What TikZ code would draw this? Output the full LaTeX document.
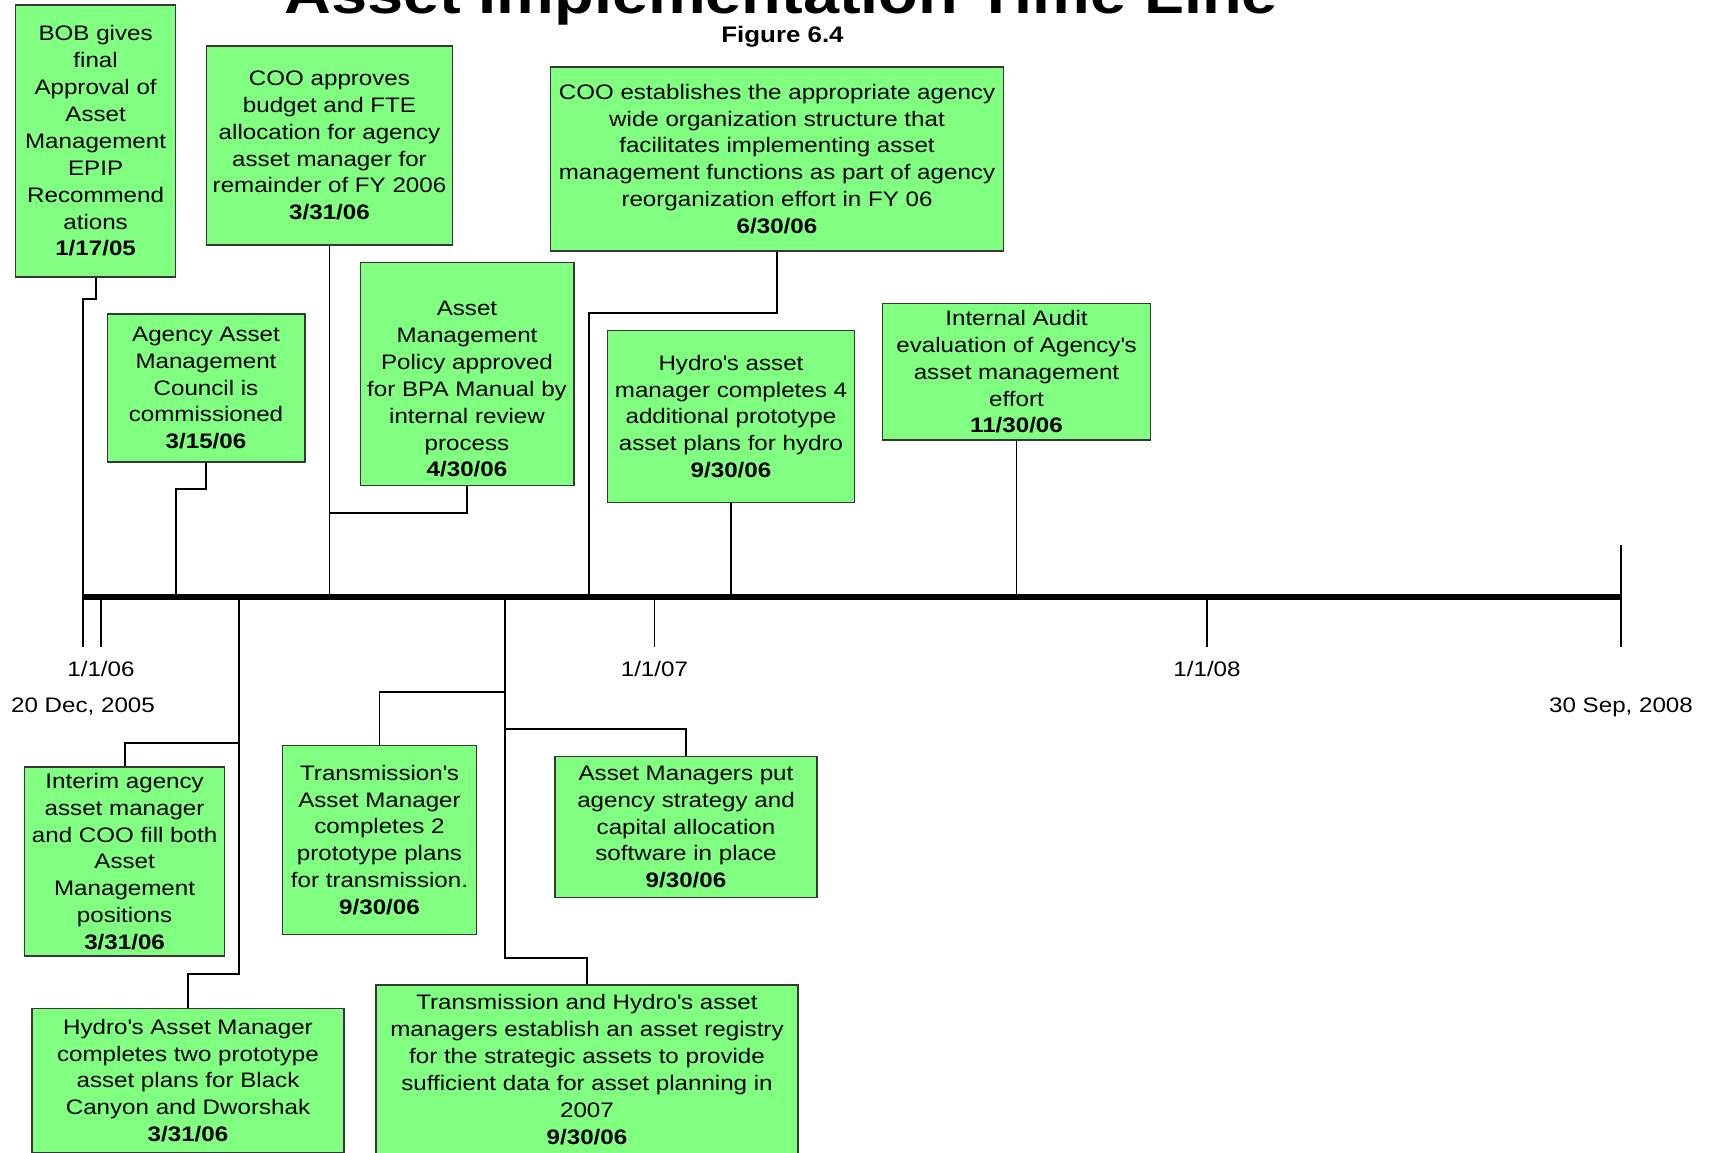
\documentclass[tikz,border=0pt]{standalone}
\usepackage{fontspec}
\setmainfont[FakeStretch=1.15]{Liberation Sans}
\definecolor{G1}{RGB}{128,255,128}
\definecolor{B1}{RGB}{55,55,55}
\newcommand{\evfont}{\fontsize{21}{26.9}\selectfont}
\newcommand{\apo}{\textquotesingle}
\tikzstyle{event}=[draw=B1, fill=G1, line width=1.5pt, align=center, inner sep=2pt, font=\evfont]
\tikzstyle{link}=[line width=1.8pt]
\tikzstyle{datelbl}=[font=\evfont, anchor=base]

\begin{document}
\begin{tikzpicture}[x=1pt,y=-1pt]
  \useasboundingbox (0,0) rectangle (1710,1153);
  % heading
  \node[anchor=base, font=\fontsize{56.4}{60}\selectfont\bfseries] (title) at (781,13.5) {Asset Implementation Time Line};
  \node[anchor=base, font=\fontsize{22.5}{24}\selectfont\bfseries] (fig) at (782.5,42.7) {Figure 6.4};

  % time axis
  \coordinate (t0) at (83,597); \coordinate (t1) at (1622,597);
  \draw[line width=6pt] (t0)--(t1);
  \draw[link] (83,545)--(83,647); \draw[link] (1621,545)--(1621,647);
  \draw[link] (101,597)--(101,647); \draw[link] (654.4,597)--(654.4,647); \draw[link] (1207,597)--(1207,647);
  \node[datelbl] (d06) at (101,676.7) {1/1/06};
  \node[datelbl] (d07) at (654.4,676.7) {1/1/07};
  \node[datelbl] (d08) at (1207,676.7) {1/1/08};
  \node[datelbl] (dstart) at (83,712.7) {20 Dec, 2005};
  \node[datelbl] (dend) at (1621,712.7) {30 Sep, 2008};

  % milestones above the axis
  \node[event, minimum width=160, minimum height=272] (bob) at (95.6,141) {BOB gives\\final\\Approval of\\Asset\\Management\\EPIP\\Recommend\\ations\\\textbf{1/17/05}};
  \node[event, minimum width=246, minimum height=199] (budget) at (329.5,145.5) {COO approves\\budget and FTE\\allocation for agency\\asset manager for\\remainder of FY 2006\\\textbf{3/31/06}};
  \node[event, minimum width=453, minimum height=184] (reorg) at (777,159) {COO establishes the appropriate agency\\wide organization structure that\\facilitates implementing asset\\management functions as part of agency\\reorganization effort in FY 06\\\textbf{6/30/06}};
  \node[event, minimum width=197.5, minimum height=148] (council) at (206,388) {Agency Asset\\Management\\Council is\\commissioned\\\textbf{3/15/06}};
  \node[event, minimum width=213.5, minimum height=223] (policy) at (467,374) {\rule{0pt}{45pt}Asset\\Management\\Policy approved\\for BPA Manual by\\internal review\\process\\\textbf{4/30/06}};
  \node[event, minimum width=247, minimum height=172] (hydro4) at (731,416.5) {Hydro\apo s asset\\manager completes 4\\additional prototype\\asset plans for hydro\\\textbf{9/30/06}};
  \node[event, minimum width=268, minimum height=136.7] (audit) at (1016.5,371.7) {Internal Audit\\evaluation of Agency\apo s\\asset management\\effort\\\textbf{11/30/06}};

  % milestones below the axis
  \node[event, minimum width=200, minimum height=189] (interim) at (124.6,861.5) {Interim agency\\asset manager\\and COO fill both\\Asset\\Management\\positions\\\textbf{3/31/06}};
  \node[event, minimum width=194, minimum height=189.3] (trans2) at (379.5,840) {Transmission\apo s\\Asset Manager\\completes 2\\prototype plans\\for transmission.\\\textbf{9/30/06}};
  \node[event, minimum width=262, minimum height=140.7] (put) at (686,827) {Asset Managers put\\agency strategy and\\capital allocation\\software in place\\\textbf{9/30/06}};
  \node[event, minimum width=312, minimum height=143.6] (hydro2) at (188,1080.5) {Hydro\apo s Asset Manager\\completes two prototype\\asset plans for Black\\Canyon and Dworshak\\\textbf{3/31/06}};
  \node[event, minimum width=422, minimum height=169] (registry) at (587,1069.5) {Transmission and Hydro\apo s asset\\managers establish an asset registry\\for the strategic assets to provide\\sufficient data for asset planning in\\2007\\\textbf{9/30/06}};

  % leaders to the axis
  \coordinate (aC) at (176,597); \coordinate (aR) at (589,597);
  \coordinate (bA) at (238.8,597); \coordinate (bB) at (505,597);
  \draw[link] (bob.south)--++(0,21) -| (t0);
  \draw[link] (budget.south)--(budget.south |- t0);
  \draw[link] (council.south)--++(0,26) -| (aC);
  \draw[link] (policy.south)--++(0,27) -| (budget.south |- t0);
  \draw[link] (reorg.south)--++(0,61) -| (aR);
  \draw[link] (hydro4.south)--(hydro4.south |- t0);
  \draw[link] (audit.south)--(audit.south |- t0);
  \draw[link] (bA)--++(0,146) -| (interim.north);
  \draw[link] (bA)--++(0,377) -| (hydro2.north);
  \draw[link] (bB)--++(0,95) -| (trans2.north);
  \draw[link] (bB)--++(0,132) -| (put.north);
  \draw[link] (bB)--++(0,361) -| (registry.north);
\end{tikzpicture}
\end{document}
